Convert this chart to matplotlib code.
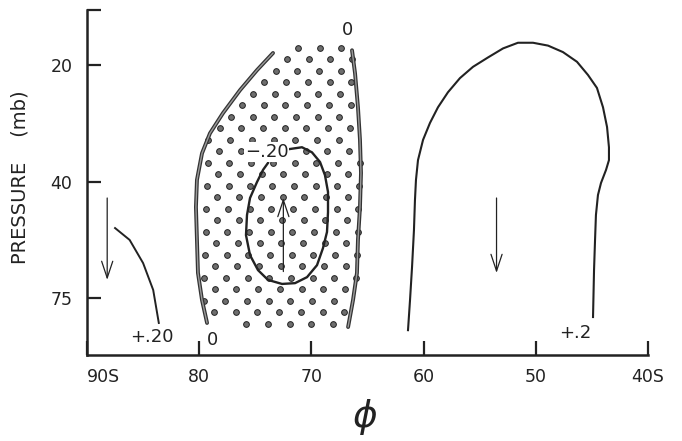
import numpy as np
import matplotlib
matplotlib.use('Agg')
import matplotlib.pyplot as plt
from matplotlib.path import Path

# axis ticks
lat_ticks = [90, 80, 70, 60, 50, 40]
lat_labels = ['90S', '80', '70', '60', '50', '40S']
p_ticks = [20, 40, 75]
p_top, p_bottom = 14.4, 102.0

# zero contour on the poleward side of the stippled cell (lat, mb)
zero_w_lat = [79.30, 79.75, 80.11, 80.20, 80.29, 80.20, 79.75, 79.04, 77.88, 76.36, 74.85, 73.42]
zero_w_p = [85.8, 75.8, 65.5, 54.8, 45.9, 39.6, 33.8, 30.0, 26.6, 23.2, 20.6, 18.6]
# zero contour on the equatorward side
zero_e_lat = [66.38, 66.11, 65.85, 65.67, 65.58, 65.67, 65.85, 65.94, 66.29, 66.73]
zero_e_p = [18.3, 21.0, 25.7, 31.2, 38.0, 45.9, 54.8, 65.5, 75.8, 87.7]
# top of stippled area
stip_top_lat = [72.0, 66.5]
stip_top_p = [17.4, 17.4]

# -.20 closed contour (open where the label sits)
neg_lat = [72.09, 70.84, 69.95, 69.23, 68.79, 68.52, 68.52, 68.61, 68.97, 69.50, 70.39,
           71.46, 72.62, 73.87, 74.76, 75.47, 75.83, 75.74, 75.47, 74.85, 74.31, 73.87]
neg_p = [33.0, 32.6, 33.6, 35.6, 38.5, 42.3, 47.2, 52.5, 57.3, 62.8, 67.0,
         69.2, 69.5, 68.0, 64.5, 59.5, 53.4, 47.9, 43.7, 40.1, 37.3, 35.8]

# +.20 contour near the pole
pos_pole_lat = [87.5, 86.2, 85.0, 84.1, 83.6]
pos_pole_p = [51.4, 54.8, 62.1, 71.8, 85.8]

# +.2 contour in midlatitudes
pos_mid_lat = [61.39, 61.21, 61.03, 60.86, 60.77, 60.68, 60.50, 60.05, 59.43, 58.72, 57.83,
               56.76, 55.60, 54.26, 52.92, 51.59, 50.25, 48.91, 47.58, 46.33, 45.35, 44.55,
               44.01, 43.65, 43.48, 43.48, 43.74, 44.19, 44.46, 44.64, 44.72, 44.81, 44.90]
pos_mid_p = [89.2, 75.8, 63.4, 52.0, 44.2, 39.6, 35.2, 31.2, 28.2, 25.7, 23.5,
             21.6, 20.2, 19.1, 18.1, 17.5, 17.5, 17.8, 18.5, 19.6, 21.2, 22.9,
             25.7, 28.9, 32.6, 35.2, 37.3, 40.3, 43.0, 47.9, 54.8, 64.5, 83.1]

# arrows: (lat, p tail, p head)
arrows = [(88.2, 43.7, 68.0), (72.5, 65.0, 43.7), (53.5, 43.7, 65.5)]

# contour labels
labels = ['0', '0', '+.20', '\u2212.20', '+.2']
label_lat = [66.8, 78.8, 84.2, 74.0, 46.5]
label_p = [16.2, 94.1, 92.6, 33.6, 90.6]

L20, L40, L75 = np.log(20), np.log(40), np.log(75)


def fwd(p):
    lp = np.log(np.clip(p, 1e-6, None))
    return np.where(lp < L40, (lp - L20) / (L40 - L20), 1 + (lp - L40) / (L75 - L40))


def inv(y):
    return np.exp(np.where(y < 1, L20 + y * (L40 - L20), L40 + (y - 1) * (L75 - L40)))


ink = '#222222'
fig = plt.figure(figsize=(6.82, 4.41), dpi=100)
ax = fig.add_axes([87 / 682, 86 / 441, 561 / 682, 345 / 441])
ax.set_yscale('function', functions=(fwd, inv))
ax.set_xlim(90, 40)
ax.set_ylim(p_bottom, p_top)

for s in ['top', 'right']:
    ax.spines[s].set_visible(False)
for s in ['left', 'bottom']:
    ax.spines[s].set_linewidth(1.8)
    ax.spines[s].set_color(ink)

ax.set_xticks(lat_ticks, lat_labels)
ax.set_yticks([p_top] + p_ticks, [''] + [str(v) for v in p_ticks])
ax.tick_params(direction='in', length=10, width=1.6, colors=ink, labelsize=12.5)
ax.tick_params(axis='x', pad=9)
ax.tick_params(axis='y', pad=10.5)
ax.get_xticklabels()[0].set_horizontalalignment('left')

# stipple: regular staggered dot screen clipped to the cell
gx, gy = np.meshgrid(np.arange(-7, 4), np.arange(0, 26))
dot_x = (298 + 21.7 * gx + 10.85 * (gy % 2) - 0.35 * gy - 87) / 561
dot_y = (355 - (47.5 + 11.5 * gy)) / 345
dots = np.column_stack([dot_x.ravel(), dot_y.ravel()])
poly = np.column_stack([zero_w_lat + stip_top_lat + zero_e_lat,
                        zero_w_p + stip_top_p + zero_e_p])
cell = Path(ax.transData.transform(poly))
inside = cell.contains_points(ax.transAxes.transform(dots))
ax.scatter(dots[inside, 0], dots[inside, 1], transform=ax.transAxes, s=17,
           facecolor='#6e6e6e', edgecolor=ink, linewidth=0.7, zorder=2)

# zero lines: thick grey with dark rim
for lat, p in [(zero_w_lat, zero_w_p), (zero_e_lat, zero_e_p)]:
    ax.plot(lat, p, color='#333333', lw=2.8, solid_capstyle='round',
            solid_joinstyle='round', zorder=3)
    ax.plot(lat, p, color='#9a9a9a', lw=1.0, solid_capstyle='round',
            solid_joinstyle='round', zorder=3.1)

ax.plot(neg_lat, neg_p, color=ink, lw=1.7, solid_joinstyle='round', zorder=3)
ax.plot(pos_pole_lat, pos_pole_p, color=ink, lw=1.4, solid_joinstyle='round', zorder=3)
ax.plot(pos_mid_lat, pos_mid_p, color=ink, lw=1.5, solid_joinstyle='round', zorder=3)

for lat, p0, p1 in arrows:
    ax.annotate('', xy=(lat, p1), xytext=(lat, p0),
                arrowprops=dict(arrowstyle='->,head_length=1.2,head_width=0.4',
                                lw=0.9, color=ink, shrinkA=0, shrinkB=0), zorder=4)

for t, lat, p in zip(labels, label_lat, label_p):
    box = dict(facecolor='white', edgecolor='none', pad=0.6) if t.endswith('.20') and t[0] != '+' else None
    ax.text(lat, p, t, fontsize=13, color=ink, ha='center', va='center', zorder=4, bbox=box)

fig.text(365 / 682, 1 - 417 / 441, r'$\phi$', fontsize=27, color=ink, ha='center', va='center')
fig.text(20 / 682, 1 - 177 / 441, 'PRESSURE    (mb)', rotation=90, fontsize=14,
         color=ink, ha='center', va='center')

fig.savefig('out.png', dpi=100, facecolor='white')
